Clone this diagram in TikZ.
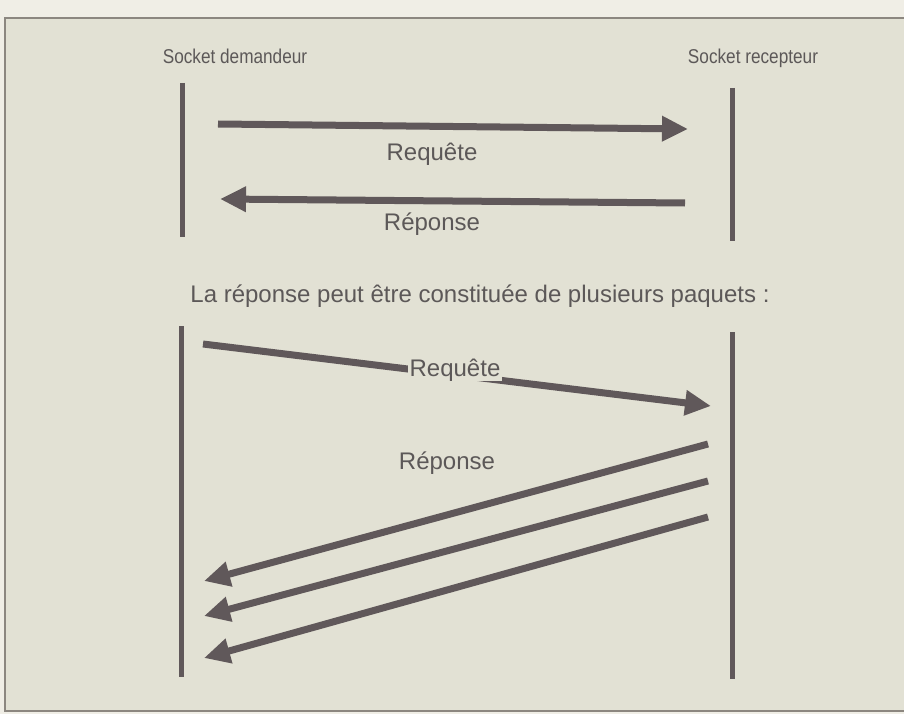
\documentclass[tikz,border=0pt]{standalone}
\usepackage{fontspec}
\setmainfont{Liberation Sans}
\newfontfamily\narrowfont[FakeStretch=0.86]{Liberation Sans}
\usetikzlibrary{arrows.meta}
\definecolor{outerbg}{RGB}{240,238,230}
\definecolor{bg}{RGB}{226,225,212}
\definecolor{ink}{RGB}{96,88,90}
\definecolor{txt}{RGB}{92,88,88}
\definecolor{framec}{RGB}{140,135,128}
\tikzset{
  lifeline/.style={draw=ink, line width=5pt},
  msg/.style={draw=ink, line width=7pt, -{Triangle[length=26pt,width=24pt]}},
  lbl/.style={text=txt, font=\fontsize{24}{28}\selectfont, inner sep=1pt},
  sock/.style={text=txt, font=\narrowfont\fontsize{20}{24}\selectfont, inner sep=0pt},
}
\begin{document}
\begin{tikzpicture}[x=1pt,y=-1pt]
\useasboundingbox (0,0) rectangle (904,714);
\fill[outerbg] (0,0) rectangle (904,714);
\draw[framec, line width=2pt, fill=bg] (5,18) rectangle (910,711);

% headers
\node[sock] (sd) at (235,56) {Socket demandeur};
\node[sock] (sr) at (753,58) {Socket recepteur};

% top lifelines
\coordinate (l1t) at (182,83);
\coordinate (l1b) at (182,237);
\coordinate (r1t) at (732,88);
\coordinate (r1b) at (732,241);
\draw[lifeline] (l1t) -- (l1b);
\draw[lifeline] (r1t) -- (r1b);

% top messages
\coordinate (q1s) at (218,124);
\coordinate (q1e) at (688,129);
\coordinate (p1s) at (685,203);
\coordinate (p1e) at (220,199);
\draw[msg] (q1s) -- (q1e);
\draw[msg] (p1s) -- (p1e);
\node[lbl] (q1) at (432,154) {Requête};
\node[lbl] (p1) at (432,224) {Réponse};

% caption
\node[lbl] (cap) at (480,296) {La réponse peut être constituée de plusieurs paquets :};

% bottom lifelines
\coordinate (l2t) at (181,326);
\coordinate (l2b) at (181,677);
\coordinate (r2t) at (732,332);
\coordinate (r2b) at (732,679);
\draw[lifeline] (l2t) -- (l2b);
\draw[lifeline] (r2t) -- (r2b);

% bottom request
\coordinate (q2s) at (203,344);
\coordinate (q2e) at (711,406);
\draw[msg] (q2s) -- (q2e);
\node[lbl, fill=bg, inner xsep=2pt, inner ysep=0pt] (q2) at (455,370) {Requête};

% bottom responses
\node[lbl] (p2) at (447,463) {Réponse};
\coordinate (a1s) at (708,444);
\coordinate (a1e) at (204,581);
\coordinate (a2s) at (708,481);
\coordinate (a2e) at (204,616);
\coordinate (a3s) at (708,517);
\coordinate (a3e) at (204,658);
\draw[msg] (a1s) -- (a1e);
\draw[msg] (a2s) -- (a2e);
\draw[msg] (a3s) -- (a3e);
\end{tikzpicture}
\end{document}
